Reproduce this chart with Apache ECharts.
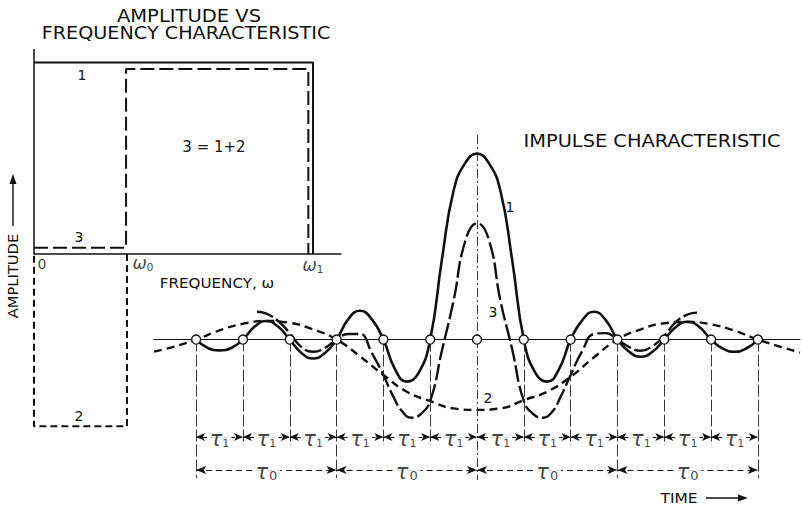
<!DOCTYPE html>
<html><head><meta charset="utf-8">
<script src="https://cdn.jsdelivr.net/npm/echarts@6/dist/echarts.min.js"></script>
<style>html,body{margin:0;padding:0;background:#fff}#c{width:802px;height:508px}</style>
</head><body><div id="c"></div>
<script>
// ================= DATA =================
// Left panel: amplitude vs frequency (frequency in units of ω0, ω1 = 3·ω0)
const freqTicks = [0, 1, 3];
const freqTickLabels = ['0', '{w|ω}{s|0}', '{w|ω}{s|1}'];
const spec1Freq = [0, 3, 3];
const spec1Amp  = [1, 1, 0];
const spec2Freq = [1, 1, 0, 0];
const spec2Amp  = [0, -0.9, -0.9, 0];
const spec3Freq = [0, 0.99, 0.99, 2.95, 2.95];
const spec3Amp  = [0.033, 0.033, 0.966, 0.966, 0];

// Right panel: impulse characteristics (time in units of τ1, τ0 = 3·τ1)
const zeroTimes  = [-6, -5, -4, -3, -2, -1, 0, 1, 2, 3, 4, 5, 6];
const tau1Bounds = [-6, -5, -4, -3, -2, -1, 0, 1, 2, 3, 4, 5, 6];
const tau0Bounds = [-6, -3, 0, 3, 6];

const curve1Time = [-6, -5.75, -5.5, -5.25, -5, -4.75, -4.5, -4.25, -4, -3.75, -3.5, -3.25, -3,
  -2.75, -2.5, -2.25, -2, -1.75, -1.5, -1.25, -1, -0.75, -0.5, -0.25, 0,
  0.25, 0.5, 0.75, 1, 1.25, 1.5, 1.75, 2, 2.25, 2.5, 2.75, 3,
  3.25, 3.5, 3.75, 4, 4.25, 4.5, 4.75, 5, 5.25, 5.5, 5.75, 6];
const curve1Amp = [0, -0.045, -0.058, -0.045, 0, 0.07, 0.10, 0.07, 0, -0.072, -0.102, -0.072, 0,
  0.11, 0.155, 0.11, 0, -0.16, -0.226, -0.18, 0, 0.43, 0.80, 0.95, 1.0,
  0.95, 0.80, 0.43, 0, -0.18, -0.226, -0.16, 0, 0.105, 0.15, 0.105, 0,
  -0.065, -0.092, -0.065, 0, 0.068, 0.096, 0.068, 0, -0.048, -0.065, -0.048, 0];

const curve2Time = [-6.9, -6.5, -6, -5.5, -5, -4.5, -4, -3.5, -3, -2.5, -2, -1.5, -1, -0.5, 0,
  0.5, 1, 1.5, 2, 2.5, 3, 3.5, 4, 4.5, 5, 5.5, 6, 6.5, 6.9];
const curve2Amp = [-0.065, -0.04, 0, 0.05, 0.085, 0.10, 0.09, 0.055, 0, -0.09, -0.19, -0.28, -0.33, -0.37, -0.378,
  -0.37, -0.325, -0.28, -0.2, -0.095, 0, 0.055, 0.088, 0.095, 0.082, 0.048, 0, -0.04, -0.07];

const curve3Time = [-4.7, -4.5, -4.25, -4, -3.75, -3.5, -3.25, -3, -2.75, -2.5, -2.25, -2, -1.8, -1.6, -1.4, -1.2, -1,
  -0.75, -0.5, -0.25, 0, 0.25, 0.5, 0.75, 1, 1.2, 1.4, 1.6, 1.8, 2, 2.25, 2.5, 2.75, 3,
  3.25, 3.5, 3.75, 4, 4.25, 4.5, 4.7];
const curve3Amp = [0.15, 0.14, 0.10, 0.035, -0.04, -0.065, -0.045, 0, 0.03, 0.03, -0.07, -0.19, -0.30, -0.385, -0.42, -0.40, -0.33,
  -0.06, 0.21, 0.53, 0.625, 0.54, 0.21, -0.05, -0.33, -0.40, -0.42, -0.39, -0.30, -0.19, -0.06, 0.03, 0.035, 0,
  -0.04, -0.06, -0.035, 0.02, 0.095, 0.135, 0.145];

// ================= CHART =================
const INK = '#111';
const FONT = 'DejaVu Sans';
const pairs = (xs, ys) => xs.map((x, i) => [x, ys[i]]);

const rowTau1 = -0.524, rowTau0 = -0.701;
const guideShort = -0.567, guideLong = -0.745;

const guideLines = zeroTimes.filter(t => t !== 0).map(t => [
  { coord: [t, 0] }, { coord: [t, tau0Bounds.includes(t) ? guideLong : guideShort] }
]);
const tau1Arrows = tau1Bounds.slice(0, -1).map((a, i) => [{ coord: [a, rowTau1] }, { coord: [tau1Bounds[i + 1], rowTau1] }]);
const tau0Arrows = tau0Bounds.slice(0, -1).map((a, i) => [{ coord: [a, rowTau0] }, { coord: [tau0Bounds[i + 1], rowTau0] }]);
const tau1Mid = tau1Bounds.slice(0, -1).map((a, i) => [(a + tau1Bounds[i + 1]) / 2, rowTau1]);
const tau0Mid = tau0Bounds.slice(0, -1).map((a, i) => [(a + tau0Bounds[i + 1]) / 2, rowTau0]);

const tickOffsets = [[8, 10], [16, 9], [0, 11]];

const chart = echarts.init(document.getElementById('c'), null, { renderer: 'svg' });

const tauT = { fontSize: 21, fontFamily: FONT, fontStyle: 'italic', color: INK, lineHeight: 22, padding: [0, 0, 0, 0] };
const tauS = { fontSize: 11, fontFamily: FONT, color: INK, lineHeight: 12, padding: [9, 0, 0, 0] };

function txt(text, x, y, size, opts) {
  return Object.assign({
    type: 'text', x: x, y: y, silent: true,
    style: { text: text, fontSize: size, fontFamily: FONT, fill: INK, align: 'center', verticalAlign: 'middle' }
  }, opts || {});
}

chart.setOption({
  animation: false,
  backgroundColor: '#fff',
  grid: [
    { left: 34, top: 43.35, width: 306.9, height: 402.15 },
    { left: 154, top: 135, width: 646, height: 372 }
  ],
  xAxis: [
    { gridIndex: 0, type: 'value', min: 0, max: 3.3, axisLine: { show: true, onZero: true, lineStyle: { color: INK, width: 1.5 } },
      axisTick: { show: false }, axisLabel: { show: false }, splitLine: { show: false } },
    { gridIndex: 1, type: 'value', min: -6.9, max: 6.9, axisLine: { show: true, onZero: true, lineStyle: { color: INK, width: 1.2 } },
      axisTick: { show: false }, axisLabel: { show: false }, splitLine: { show: false } }
  ],
  yAxis: [
    { gridIndex: 0, type: 'value', min: -1, max: 1.1, show: false },
    { gridIndex: 1, type: 'value', min: -0.9, max: 1.1, show: false }
  ],
  series: [
    // ---- left panel ----
    { type: 'line', xAxisIndex: 0, yAxisIndex: 0, data: pairs(spec1Freq, spec1Amp), symbol: 'none', z: 4,
      lineStyle: { color: INK, width: 2 },
      markLine: { silent: true, symbol: 'none', label: { show: false }, lineStyle: { color: INK, width: 1.5, type: 'solid' },
        data: [[{ coord: [0, 0] }, { coord: [0, 1.07] }]] } },
    { type: 'line', xAxisIndex: 0, yAxisIndex: 0, data: pairs(spec2Freq, spec2Amp), symbol: 'none', z: 3,
      lineStyle: { color: INK, width: 2, type: [7, 4] } },
    { type: 'line', xAxisIndex: 0, yAxisIndex: 0, data: pairs(spec3Freq, spec3Amp), symbol: 'none', z: 3,
      lineStyle: { color: INK, width: 2, type: [14, 5] } },
    { type: 'scatter', xAxisIndex: 0, yAxisIndex: 0, symbolSize: 0, silent: true, z: 6,
      data: freqTicks.map((f, i) => ({ value: [f, 0], label: { offset: tickOffsets[i] } })),
      label: { show: true, position: 'inside', color: INK,
        formatter: p => freqTickLabels[p.dataIndex],
        rich: {
          w: { fontSize: 17, fontFamily: FONT, fontStyle: 'italic', color: INK },
          s: { fontSize: 11, fontFamily: FONT, color: INK, padding: [8, 0, 0, 0] }
        }, fontSize: 14, fontFamily: FONT } },

    // ---- right panel: guides ----
    { type: 'line', xAxisIndex: 1, yAxisIndex: 1, data: [], z: 1,
      markLine: { silent: true, symbol: 'none', label: { show: false },
        lineStyle: { color: '#222', width: 0.9, type: [12, 3] }, data: guideLines } },
    { type: 'line', xAxisIndex: 1, yAxisIndex: 1, data: [], z: 1,
      markLine: { silent: true, symbol: 'none', label: { show: false },
        lineStyle: { color: '#222', width: 0.9, type: [9, 3, 2, 3] },
        data: [[{ coord: [0, 1.1] }, { coord: [0, -0.755] }]] } },
    { type: 'line', xAxisIndex: 1, yAxisIndex: 1, data: [], z: 2,
      markLine: { silent: true, symbol: ['arrow', 'arrow'], symbolSize: [6, 9], label: { show: false },
        lineStyle: { color: INK, width: 1, type: [4, 3] }, data: tau1Arrows } },
    { type: 'line', xAxisIndex: 1, yAxisIndex: 1, data: [], z: 2,
      markLine: { silent: true, symbol: ['arrow', 'arrow'], symbolSize: [6, 10], label: { show: false },
        lineStyle: { color: INK, width: 1, type: [6, 4] }, data: tau0Arrows } },

    // ---- right panel: curves ----
    { name: '2', type: 'line', xAxisIndex: 1, yAxisIndex: 1, data: pairs(curve2Time, curve2Amp), symbol: 'none', smooth: true, z: 3,
      lineStyle: { color: INK, width: 2.4, type: [8, 5] } },
    { name: '3', type: 'line', xAxisIndex: 1, yAxisIndex: 1, data: pairs(curve3Time, curve3Amp), symbol: 'none', smooth: true, z: 3,
      lineStyle: { color: INK, width: 2.4, type: [17, 4] } },
    { name: '1', type: 'line', xAxisIndex: 1, yAxisIndex: 1, data: pairs(curve1Time, curve1Amp), symbol: 'none', smooth: true, z: 4,
      lineStyle: { color: INK, width: 2.6 } },
    { type: 'scatter', xAxisIndex: 1, yAxisIndex: 1, data: zeroTimes.map(t => [t, 0]), symbol: 'circle', symbolSize: 9, z: 6, silent: true,
      itemStyle: { color: '#fff', borderColor: INK, borderWidth: 1.4, opacity: 1 } },
    // tau labels
    { type: 'scatter', xAxisIndex: 1, yAxisIndex: 1, data: tau1Mid, symbolSize: 0, z: 7, silent: true,
      label: { show: true, position: 'inside', offset: [0, 2], formatter: '{t|τ}{s|1}', backgroundColor: '#fff', padding: [0, 2],
        rich: { t: tauT, s: tauS } } },
    { type: 'scatter', xAxisIndex: 1, yAxisIndex: 1, data: tau0Mid, symbolSize: 0, z: 7, silent: true,
      label: { show: true, position: 'inside', offset: [0, 2], formatter: '{t|τ}{s|0}', backgroundColor: '#fff', padding: [0, 3],
        rich: { t: tauT, s: Object.assign({}, tauS, { fontSize: 13, padding: [8, 0, 0, 1] }) } } }
  ],
  graphic: [
    txt('AMPLITUDE VS', 189, 16, 17, { scaleX: 1.15 }),
    txt('FREQUENCY CHARACTERISTIC', 186, 33, 17, { scaleX: 1.13 }),
    txt('IMPULSE CHARACTERISTIC', 652, 141, 17, { scaleX: 1.14 }),
    txt('1', 82, 75, 14),
    txt('3', 79, 237, 14),
    txt('2', 79, 416, 14),
    txt('3 = 1+2', 214, 147, 15),
    txt('FREQUENCY, ω', 217, 283, 14, { scaleX: 1.08 }),
    txt('AMPLITUDE', 13, 276, 14, { rotation: Math.PI / 2, scaleX: 1.05 }),
    { type: 'line', silent: true, shape: { x1: 13, y1: 226, x2: 13, y2: 182 }, style: { stroke: INK, lineWidth: 1.4 } },
    { type: 'polygon', silent: true, shape: { points: [[9.5, 184], [13, 174], [16.5, 184]] }, style: { fill: INK } },
    txt('1', 510, 207, 14),
    txt('3', 493, 312, 14),
    txt('2', 488, 398, 14),
    txt('TIME', 679, 498, 14, { scaleX: 1.1 }),
    { type: 'line', silent: true, shape: { x1: 706, y1: 498, x2: 740, y2: 498 }, style: { stroke: INK, lineWidth: 1.6 } },
    { type: 'polygon', silent: true, shape: { points: [[738, 494.5], [748, 498], [738, 501.5]] }, style: { fill: INK } }
  ]
});
</script></body></html>
